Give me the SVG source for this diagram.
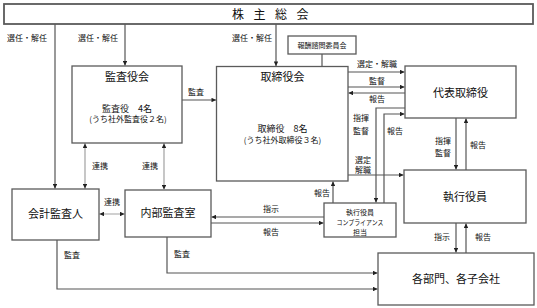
<svg xmlns="http://www.w3.org/2000/svg" width="537" height="308" viewBox="0 0 537 308">
<defs>
<style>
.box{fill:#fff;stroke:#5a5a5a;stroke-width:1.3}
.ln{fill:none;stroke:#555;stroke-width:1.2}
.dot{fill:none;stroke:#444;stroke-width:1.2;stroke-dasharray:1 1}
text{font-family:"Noto Sans CJK JP","Noto Sans CJK SC",sans-serif;fill:#111}
.t{font-size:11px;text-anchor:middle}
.s{font-size:9px;text-anchor:middle}
.l{font-size:8px;text-anchor:middle}
.xs{font-size:7px;text-anchor:middle}
</style>
<marker id="a" viewBox="0 0 6 6" refX="6" refY="3" markerWidth="5" markerHeight="4.5" markerUnits="userSpaceOnUse" orient="auto">
<path d="M0 0L6 3L0 6z" fill="#222"/>
</marker>
<marker id="as" viewBox="0 0 6 6" refX="0" refY="3" markerWidth="5" markerHeight="4.5" markerUnits="userSpaceOnUse" orient="auto">
<path d="M6 0L0 3L6 6z" fill="#222"/>
</marker>
</defs>
<rect width="537" height="308" fill="#fff"/>

<g id="connectors">
<path class="ln" d="M55 24V188.5" marker-end="url(#a)"/>
<path class="ln" d="M125 24V65.5" marker-end="url(#a)"/>
<path class="ln" d="M276 24V66" marker-end="url(#a)"/>
<path class="ln" d="M322 54V67"/>
<path class="ln" d="M182 100H216" marker-end="url(#a)"/>
<path class="ln" d="M348 72H404.5" marker-end="url(#a)"/>
<path class="ln" d="M348 87H404.5" marker-end="url(#a)"/>
<path class="ln" d="M405 93H348.5" marker-end="url(#a)"/>
<path class="ln" d="M405 108H376V202.5" marker-end="url(#a)"/>
<path class="ln" d="M384 203V114H404.5" marker-end="url(#a)"/>
<path class="ln" d="M456 118V169.5" marker-end="url(#a)"/>
<path class="ln" d="M466 170V118.5" marker-end="url(#a)"/>
<path class="ln" d="M348 175H403.5" marker-end="url(#a)"/>
<path class="ln" d="M333 203V181.5" marker-end="url(#a)"/>
<path class="ln" d="M324 217H211.5" marker-end="url(#a)"/>
<path class="ln" d="M211 223H323.5" marker-end="url(#a)"/>
<path class="dot" d="M85 143.5V188.5" marker-start="url(#as)" marker-end="url(#a)"/>
<path class="dot" d="M164 143.5V189.5" marker-start="url(#as)" marker-end="url(#a)"/>
<path class="dot" d="M99.5 214H124.5" marker-start="url(#as)" marker-end="url(#a)"/>
<path class="ln" d="M57 240V289H377.5" marker-end="url(#a)"/>
<path class="ln" d="M167 237V273H377.5" marker-end="url(#a)"/>
<path class="ln" d="M456 223V252.5" marker-end="url(#a)"/>
<path class="ln" d="M466 253V223.5" marker-end="url(#a)"/>

<text class="l" x="27" y="41">選任・解任</text>
<text class="l" x="98" y="41">選任・解任</text>
<text class="l" x="252" y="41">選任・解任</text>
<text class="l" x="196" y="95">監査</text>
<text class="l" x="377" y="67">選定・解職</text>
<text class="l" x="377" y="84">監督</text>
<text class="l" x="377" y="102">報告</text>
<text class="l" x="361" y="121">指揮</text>
<text class="l" x="361" y="134">監督</text>
<text class="l" x="395" y="134">報告</text>
<text class="l" x="443" y="144">指揮</text>
<text class="l" x="443" y="156">監督</text>
<text class="l" x="478" y="148">報告</text>
<text class="l" x="363" y="163">選定</text>
<text class="l" x="363" y="173">解職</text>
<text class="l" x="322" y="196">報告</text>
<text class="l" x="271" y="212">指示</text>
<text class="l" x="271" y="235">報告</text>
<text class="l" x="100" y="169">連携</text>
<text class="l" x="150" y="169">連携</text>
<text class="l" x="112" y="205">連携</text>
<text class="l" x="72" y="258">監査</text>
<text class="l" x="182" y="257">監査</text>
<text class="l" x="442" y="240">指示</text>
<text class="l" x="483" y="240">報告</text>
</g>

<g id="shareholders">
<rect x="4" y="4" width="529" height="20" fill="#fff" stroke="#5a5a5a" stroke-width="1.8"/>
<text x="232" y="18.5" style="font-size:12px" letter-spacing="9.5">株主総会</text>
</g>

<g id="kansayakukai">
<rect class="box" x="72" y="66" width="110" height="77"/>
<text class="t" x="127" y="81">監査役会</text>
<text class="s" x="127" y="111.5">監査役　4名</text>
<text class="l" x="128" y="122">(うち社外監査役２名)</text>
</g>

<g id="torishimariyakukai">
<rect class="box" x="216.5" y="66.5" width="131.5" height="114.5"/>
<text class="t" x="282.5" y="81">取締役会</text>
<text class="s" x="282.5" y="131.5">取締役　8名</text>
<text class="l" x="282.5" y="143">(うち社外取締役３名)</text>
</g>

<g id="houshu">
<rect class="box" x="288" y="36" width="68" height="18"/>
<text class="xs" x="322" y="47.5">報酬諮問委員会</text>
</g>

<g id="daihyo">
<rect class="box" x="405" y="66" width="111" height="52"/>
<text class="t" x="460.5" y="96.5">代表取締役</text>
</g>

<g id="shikko">
<rect class="box" x="404" y="170" width="122" height="53"/>
<text class="t" x="465" y="200.5">執行役員</text>
</g>

<g id="compliance">
<rect class="box" x="324" y="203" width="72" height="34"/>
<text class="xs" x="360" y="214.5">執行役員</text>
<text class="xs" x="360" y="224.5" textLength="47" lengthAdjust="spacingAndGlyphs">コンプライアンス</text>
<text class="xs" x="360" y="234.5">担当</text>
</g>

<g id="kaikei">
<rect class="box" x="12" y="189" width="87" height="51"/>
<text class="t" x="55.5" y="218">会計監査人</text>
</g>

<g id="naibu">
<rect class="box" x="125" y="190" width="86" height="47"/>
<text class="t" x="168" y="217">内部監査室</text>
</g>

<g id="kakubumon">
<rect class="box" x="378" y="253" width="156" height="52"/>
<text class="t" x="456" y="282.5">各部門、各子会社</text>
</g>
</svg>
